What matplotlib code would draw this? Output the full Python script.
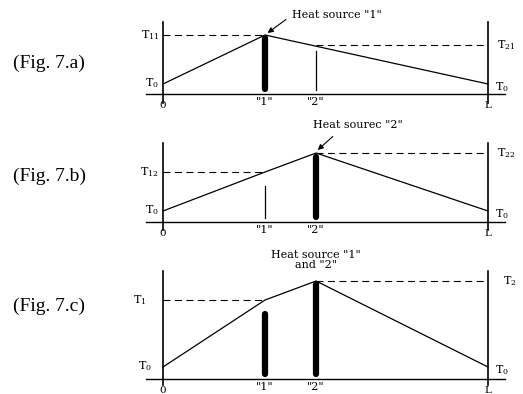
import matplotlib.pyplot as plt

plt.rcParams["font.family"] = "DejaVu Serif"
plt.rcParams["mathtext.default"] = "regular"

W, H = 523, 394

# heat source positions along the rod, as a fraction of its length L
x_src = [0.314, 0.471]
x_nodes = [0.0, x_src[0], x_src[1], 1.0]

tags = ["(Fig. 7.a)", "(Fig. 7.b)", "(Fig. 7.c)"]

# temperature at 0, source "1", source "2", L
profile_a = [10, 59, 49, 10]
profile_b = [11, 50, 69, 11]
profile_c = [12, 79, 98, 12]

# labels of the dashed levels at source "1" (left) and source "2" (right)
levels_a = [r"$T_{11}$", r"$T_{21}$"]
levels_b = [r"$T_{12}$", r"$T_{22}$"]
levels_c = [r"$T_1$", r"$T_2$"]

# which source is switched on, and where its marker stops
active_a = [True, False]
active_b = [False, True]
active_c = [True, True]
bar_top_a = [56, 43]
bar_top_b = [36, 65]
bar_top_c = [65, 95]

callouts = ['Heat source "1"', 'Heat sourec "2"', 'Heat source "1"\nand "2"']

# pixel layout of each band: top, bottom, baseline, axis top, axis bottom
bands = [
    (0, 125, 94, 22, 103),
    (125, 250, 222, 143, 230),
    (250, 394, 379, 271, 385),
]
tag_y = [63, 176, 306]

fig = plt.figure(figsize=(W / 100, H / 100), dpi=100)

panels = [
    (profile_a, levels_a, active_a, bar_top_a),
    (profile_b, levels_b, active_b, bar_top_b),
    (profile_c, levels_c, active_c, bar_top_c),
]

x0, xL = 163, 488
scale = xL - x0
dash = (6.3, 4)

for i, (prof, levels, active, tops) in enumerate(panels):
    top, bot, base, a_top, a_bot = bands[i]
    ax = fig.add_axes([0, 1 - bot / H, 1, (bot - top) / H])
    ax.set_xlim(-x0 / scale, (W - x0) / scale)
    ax.set_ylim(base - bot, base - top)
    ax.axis("off")

    # rod ends and baseline
    for xe in (0, 1):
        ax.plot([xe, xe], [base - a_bot, base - a_top], color="black", lw=1.2)
    ax.plot([-0.052, 1.052], [0, 0], color="black", lw=1.0)

    # temperature profile
    if i == 0:
        ax.plot([x_nodes[0], x_nodes[1], x_nodes[3]],
                [prof[0], prof[1], prof[3]], color="black", lw=0.9)
    else:
        ax.plot(x_nodes, prof, color="black", lw=0.9)

    # dashed temperature levels
    ax.plot([0, x_src[0]], [prof[1], prof[1]], color="black", lw=0.8,
            dashes=dash)
    ax.plot([x_src[1], 1], [prof[2], prof[2]], color="black", lw=0.8,
            dashes=dash)

    # heat source markers
    for xs, on, t in zip(x_src, active, tops):
        if on:
            ax.plot([xs, xs], [5, t], color="black", lw=4.5,
                    solid_capstyle="round")
        else:
            ax.plot([xs, xs], [4, t], color="black", lw=0.9)

    # level labels
    lx = -0.05 if i == 2 else -0.012
    ax.text(lx, prof[1], levels[0], ha="right", va="center", fontsize=8)
    rx = 1.046 if i == 2 else 1.028
    ax.text(rx, prof[2], levels[1], ha="left", va="center", fontsize=8)
    ax.text(-0.012 if i < 2 else -0.035, prof[0] + 1, r"$T_0$",
            ha="right", va="center", fontsize=8)
    ax.text(1.022, prof[3] - 3, r"$T_0$", ha="left", va="center",
            fontsize=8)

    # position labels
    ax.text(0, -7, "0", ha="center", va="top", fontsize=7.5)
    ax.text(1, -7, "L", ha="center", va="top", fontsize=7.5)
    ax.text(x_src[0], -3, '"1"', ha="center", va="top", fontsize=8)
    ax.text(x_src[1], -3, '"2"', ha="center", va="top", fontsize=8)

    fig.text(13 / W, 1 - tag_y[i] / H, tags[i], ha="left", va="center",
             fontsize=14, family="Liberation Serif")

# callouts
ax_a, ax_b, ax_c = fig.axes
ax_a.annotate(callouts[0], xy=(x_src[0] + 0.008, profile_a[1] + 2),
              xytext=(0.397, 79), ha="left", va="center", fontsize=8,
              arrowprops=dict(arrowstyle="-|>", color="black", lw=0.8,
                              mutation_scale=8, shrinkA=3, shrinkB=0,
                              relpos=(0, 0.5)))
ax_b.annotate(callouts[1], xy=(x_src[1] + 0.005, profile_b[2] + 3),
              xytext=(0.6, 97), ha="center", va="center", fontsize=8,
              arrowprops=dict(arrowstyle="-|>", color="black", lw=0.8,
                              mutation_scale=8, shrinkA=4, shrinkB=0,
                              relpos=(0.3, 0)))
ax_c.text(x_src[1], 119, callouts[2], ha="center", va="center",
          fontsize=8, linespacing=1.0)

fig.savefig("out.png", dpi=100)
